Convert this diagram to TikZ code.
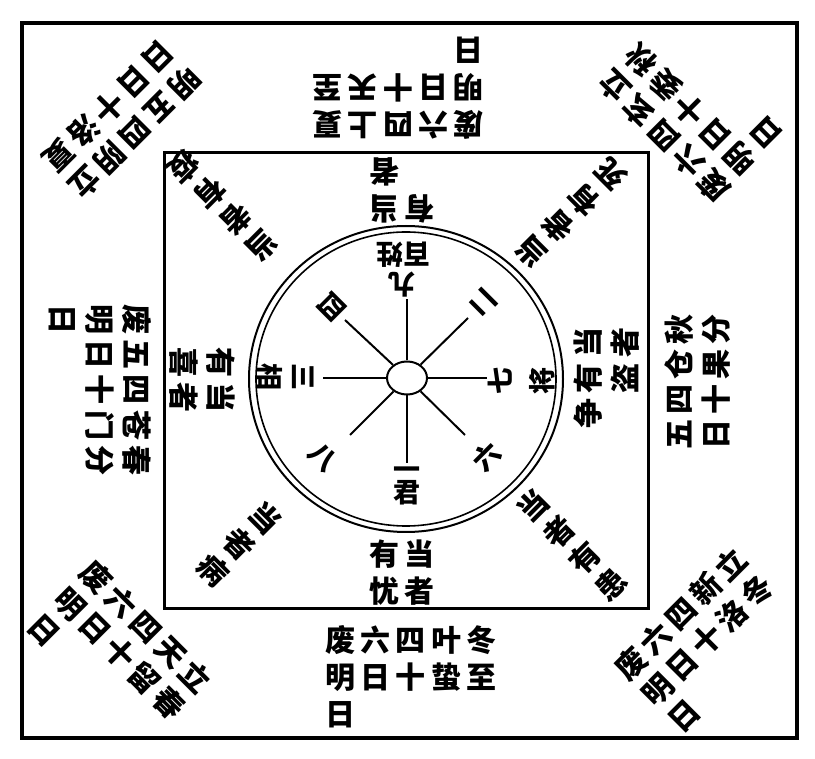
\documentclass[tikz,border=0pt]{standalone}
\usepackage{fontspec}
\newfontfamily\cjk[LetterSpace=17]{Noto Sans CJK SC}
\newfontfamily\cjkn{Noto Sans CJK SC}
\usetikzlibrary{positioning,shapes.geometric}

\begin{document}
\begin{tikzpicture}[x=1pt,y=1pt,thick,
    block/.style={font={\cjk\bfseries\fontsize{30}{37}\selectfont},align=left,inner sep=0pt},
    column/.style={font={\cjkn\bfseries\fontsize{30}{37}\selectfont},align=center,inner sep=0pt},
    num/.style={font={\cjkn\bfseries\fontsize{27}{32}\selectfont},inner sep=0pt}]

  \useasboundingbox (0,0) rectangle (815,-759);

  % frames and wheel
  \draw[line width=3.5pt] (22,-23) rectangle (797,-738);
  \draw[line width=3pt] (164,-153) rectangle (648,-608);
  \draw[line width=2pt] (406,-379) ellipse [x radius=157, y radius=153];
  \draw[line width=1.6pt] (406,-379) ellipse [x radius=150, y radius=147];
  \node[draw,ellipse,line width=2pt,minimum width=40,minimum height=33] (ctr) at (407,-378) {};

  \coordinate (sN) at (407,-299);
  \coordinate (sS) at (407,-463);
  \coordinate (sW) at (323,-378);
  \coordinate (sE) at (487,-378);
  \coordinate (sNW) at (345,-320);
  \coordinate (sNE) at (468,-318);
  \coordinate (sSW) at (350,-435);
  \coordinate (sSE) at (465,-435);

  \path[line width=2pt]
    (ctr) edge (sN)
    edge (sS)
    edge (sW)
    edge (sE)
    edge (sNW)
    edge (sNE)
    edge (sSW)
    edge (sSE);

  % numbers in the wheel
  \node[num,rotate=180] (n9) at (402,-285) {九};
  \node[num,rotate=180] (p9) at (403,-255) {百姓};
  \node[num] (n1) at (407,-473) {一};
  \node[num,below=0pt of n1] (p1) {君};
  \node[num,rotate=-90] (n3) at (303,-377) {三};
  \node[num,rotate=-90] (p3) at (270,-377) {相};
  \node[num,rotate=90] (n7) at (500,-381) {七};
  \node[num,rotate=90] (p7) at (542,-381) {将};
  \node[num,rotate=135] (n2) at (483,-303) {二};
  \node[num,rotate=-135] (n4) at (332,-307) {四};
  \node[num,rotate=-45] (n8) at (323,-457) {八};
  \node[num,rotate=45] (n6) at (487,-457) {六};

  % inner square
  \node[block] (inS) at (402,-573) {有当\\忧者};
  \node[block,rotate=180] (inN) at (402,-190) {有当\\　者};
  \node[block,rotate=-90] (inW) at (202,-380) {有当\\喜者};
  \node[block,rotate=90] (inE) at (607,-378) {争有当\\　盗者};
  \node[column,rotate=-135] (inNW) at (223,-206) {当\\者\\有\\疫};
  \node[column,rotate=135] (inNE) at (571,-213) {当\\者\\有\\死};
  \node[column,rotate=-45] (inSW) at (239,-544) {当\\者\\病};
  \node[column,rotate=45] (inSE) at (572,-545) {当\\者\\有\\患};

  % outer ring of palaces
  \node[block] (outS) at (411,-677) {废六四叶冬\\明日十蛰至\\日};
  \node[block,rotate=180] (outN) at (398,-88) {废六四上夏\\明日十天至\\日};
  \node[block,rotate=-90] (outW) at (100,-390) {废五四苍春\\明日十门分\\日};
  \node[block,rotate=90] (outE) at (698,-382) {五四仓秋\\日十果分};
  \node[block,rotate=-135] (outNW) at (122,-120) {明五四阴立\\日日十洛夏};
  \node[block,rotate=135] (outNE) at (690,-110) {废六四玄立\\明日十委秋\\日};
  \node[block,rotate=-45] (outSW) at (120,-653) {废六四天立\\明日十留春\\日};
  \node[block,rotate=45] (outSE) at (707,-640) {废六四新立\\明日十洛冬\\日};
\end{tikzpicture}
\end{document}
